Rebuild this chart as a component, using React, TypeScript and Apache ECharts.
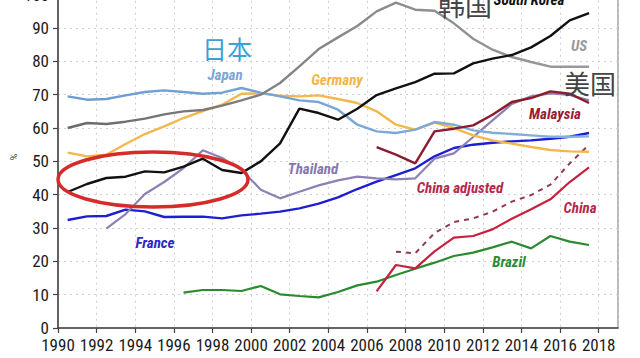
import React, { useEffect, useRef } from "react";
import * as echarts from "echarts";

const yearsFull = [1990.5, 1991.5, 1992.5, 1993.5, 1994.5, 1995.5, 1996.5, 1997.5, 1998.5, 1999.5, 2000.5, 2001.5, 2002.5, 2003.5, 2004.5, 2005.5, 2006.5, 2007.5, 2008.5, 2009.5, 2010.5, 2011.5, 2012.5, 2013.5, 2014.5, 2015.5, 2016.5, 2017.5];
const yearsThailand = [1992.5, 1993.5, 1994.5, 1995.5, 1996.5, 1997.5, 1998.5, 1999.5, 2000.5, 2001.5, 2002.5, 2003.5, 2004.5, 2005.5, 2006.5, 2007.5, 2008.5, 2009.5, 2010.5, 2011.5, 2012.5, 2013.5, 2014.5, 2015.5, 2016.5, 2017.5];
const yearsBrazil = [1996.5, 1997.5, 1998.5, 1999.5, 2000.5, 2001.5, 2002.5, 2003.5, 2004.5, 2005.5, 2006.5, 2007.5, 2008.5, 2009.5, 2010.5, 2011.5, 2012.5, 2013.5, 2014.5, 2015.5, 2016.5, 2017.5];
const yearsMalaysia = [2006.5, 2007.5, 2008.5, 2009.5, 2010.5, 2011.5, 2012.5, 2013.5, 2014.5, 2015.5, 2016.5, 2017.5];
const yearsChina = [2006.5, 2007.5, 2008.5, 2009.5, 2010.5, 2011.5, 2012.5, 2013.5, 2014.5, 2015.5, 2016.5, 2017.5];
const yearsChinaAdj = [2007.5, 2008.5, 2009.5, 2010.5, 2011.5, 2012.5, 2013.5, 2014.5, 2015.5, 2016.5, 2017.5];

const japan = [69.5, 68.5, 68.7, 69.8, 70.8, 71.3, 70.8, 70.3, 70.6, 72, 70.6, 69.5, 68.3, 67.8, 65.5, 61, 59, 58.5, 59.5, 61.8, 61, 59.3, 58.6, 58.2, 57.8, 57.4, 57.4, 57.5];
const us = [60, 61.5, 61.2, 61.9, 62.8, 64.1, 65, 65.4, 66.7, 68.3, 70, 73.5, 78.5, 83.7, 87.2, 90.6, 95, 97.6, 95.5, 95.2, 91.4, 86.8, 83.5, 81.3, 79.8, 78.4, 78.4, 78.4];
const korea = [40.8, 43.2, 45, 45.4, 47, 46.7, 48.4, 50.8, 47.4, 46.5, 50, 55.4, 65.8, 64.5, 62.5, 65.8, 69.9, 71.9, 73.8, 76.3, 76.4, 79.4, 80.8, 81.9, 84.2, 87.6, 92.3, 94.5];
const germany = [52.6, 51.5, 52, 55.2, 58.2, 60.5, 63, 65.1, 67, 70.3, 70.4, 69.7, 69.5, 69.8, 68.7, 67.5, 65, 61, 59.5, 61.6, 60, 57.8, 56.3, 55.3, 54.3, 53.4, 53, 52.9];
const france = [32.4, 33.5, 33.6, 35.5, 35, 33.3, 33.4, 33.4, 32.9, 33.8, 34.3, 34.9, 35.9, 37.3, 39.2, 41.7, 43.9, 45.9, 47.9, 51.5, 54, 55, 55.6, 56, 56.3, 56.8, 57.4, 58.5];
const thailand = [29.8, 34.2, 40.2, 43.8, 48, 53.3, 51, 47.5, 41.5, 38.9, 40.9, 42.8, 44.3, 45.4, 44.9, 44.6, 44.9, 50.8, 52.4, 57.3, 62.3, 67.2, 69.5, 70.4, 69.9, 68.3];
const brazil = [10.6, 11.4, 11.4, 11.1, 12.6, 10.1, 9.6, 9.2, 10.8, 12.8, 13.9, 15.9, 17.8, 19.6, 21.6, 22.6, 24.2, 25.9, 23.9, 27.6, 25.9, 24.9];
const malaysia = [54.3, 52, 49.4, 59, 59.8, 60.8, 64, 67.8, 69, 71, 70.3, 67.5];
const china = [11, 18.9, 17.9, 23, 27.1, 27.6, 29.6, 32.8, 35.6, 38.6, 43.8, 48.2];
const chinaAdj = [22.9, 22.4, 28.5, 31.8, 32.9, 34.9, 37.9, 39.9, 43, 49.4, 55];

const xMin = 1990;
const xMax = 2019;
const yMin = 0;
const yMax = 100;

const pair = (xs: number[], ys: number[]) => xs.map((x, i) => [x, ys[i]]);

const NARROW = "'Liberation Sans Narrow', 'Roboto Condensed', 'DejaVu Sans Condensed', sans-serif";

export default function App() {
  const ref = useRef<HTMLDivElement>(null);
  useEffect(() => {
    if (!ref.current) return;
    const chart = echarts.init(ref.current, null, { renderer: "svg" });
    const line = (name: string, xs: number[], ys: number[], color: any, width = 2.2, dashed = false, z = 2) => ({
      name,
      type: "line",
      data: pair(xs, ys),
      showSymbol: false,
      symbol: "none",
      z,
      lineStyle: { color, width, type: dashed ? [5, 5] : "solid" },
    });
    const txt = (text: string, x: number, y: number, color: string, size = 15, italic = true, bold = true, font = NARROW) => ({
      type: "text",
      x,
      y,
      z: 50,
      style: {
        text,
        fill: color,
        fontSize: size,
        fontStyle: italic ? "italic" : "normal",
        fontWeight: bold ? "bold" : "normal",
        fontFamily: font,
        textAlign: "center",
        textVerticalAlign: "middle",
      },
    });
    const cjk = "'Noto Sans CJK SC'";
    const usColor = new echarts.graphic.LinearGradient(0, 0, 1, 0, [
      { offset: 0, color: "#6a6a6a" },
      { offset: 0.45, color: "#858585" },
      { offset: 1, color: "#9a9a9a" },
    ]);
    const japanColor = new echarts.graphic.LinearGradient(0, 0, 1, 0, [
      { offset: 0, color: "#6a9bd0" },
      { offset: 1, color: "#86b0dc" },
    ]);
    chart.setOption({
      animation: false,
      backgroundColor: "#ffffff",
      grid: {
        left: 58,
        right: 22,
        top: -5.3,
        bottom: 30,
        outerBoundsMode: "none",
        containLabel: false,
        show: true,
        borderColor: "#8a8a8a",
        borderWidth: 1.2,
      },
      xAxis: {
        type: "value",
        min: xMin,
        max: xMax,
        interval: 2,
        axisLine: { show: true, lineStyle: { color: "#444", width: 1.5 } },
        axisTick: { show: true, inside: false, length: 5, lineStyle: { color: "#444", width: 1.2 } },
        axisLabel: {
          color: "#1a1a1a",
          fontSize: 17,
          lineHeight: 14,
          fontFamily: NARROW,
          margin: 10,
          showMaxLabel: false,
          formatter: (v: number) => String(v),
        },
        splitLine: { show: true, lineStyle: { color: "#cfcfcf", type: [2, 4], width: 1 } },
      },
      yAxis: {
        type: "value",
        min: yMin,
        max: yMax,
        interval: 10,
        axisLine: { show: true, lineStyle: { color: "#444", width: 1.5 } },
        axisTick: { show: true, inside: false, length: 5, lineStyle: { color: "#444", width: 1.2 } },
        axisLabel: { color: "#1a1a1a", fontSize: 17, lineHeight: 14, fontFamily: NARROW, margin: 9, formatter: (v: number) => String(v) },
        splitLine: { show: true, lineStyle: { color: "#cfcfcf", type: [2, 4], width: 1 } },
      },
      series: [
        line("Brazil", yearsBrazil, brazil, "#2b8a30"),
        line("China adjusted", yearsChinaAdj, chinaAdj, "#8e3a58", 2, true),
        line("China", yearsChina, china, "#c8203e"),
        line("France", yearsFull, france, "#1e1ed2", 2.4),
        line("Thailand", yearsThailand, thailand, "#8c80b4"),
        line("Germany", yearsFull, germany, "#f2b84b", 2.4),
        line("Japan", yearsFull, japan, japanColor, 2.4),
        line("Malaysia", yearsMalaysia, malaysia, "#8b1c2e", 2.4),
        line("US", yearsFull, us, usColor, 2.4),
        line("South Korea", yearsFull, korea, "#111111", 2.4, false, 3),
      ],
      graphic: [
        {
          type: "ellipse",
          z: 40,
          shape: { cx: 153, cy: 179.5, rx: 95, ry: 27.5 },
          style: { fill: "none", stroke: "#d62b2b", lineWidth: 3.5 },
        },
        txt("日本", 227, 48, "#3d9fd6", 25, false, false, cjk),
        txt("Japan", 225, 75, "#7ba6d6"),
        txt("Germany", 337, 80, "#f0b64a"),
        txt("Thailand", 313, 169, "#8576b0"),
        txt("France", 155, 243, "#2a2ac4"),
        txt("China adjusted", 460, 188, "#b5284a"),
        txt("China", 580, 208, "#b5284a"),
        txt("Brazil", 509, 262, "#2e8b36"),
        txt("Malaysia", 555, 114, "#9c1a30"),
        txt("US", 579, 46, "#999999"),
        txt("美国", 590, 82, "#444444", 26, false, false, cjk),
        txt("韩国", 465, 4, "#444444", 27, false, false, cjk),
        txt("South Korea", 529, 0, "#111111"),
        {
          type: "text",
          x: 14,
          y: 157,
          rotation: Math.PI / 2,
          z: 50,
          style: { text: "%", fill: "#333", fontSize: 9, fontFamily: "Roboto", textAlign: "center", textVerticalAlign: "middle" },
        },
      ],
    });
    return () => chart.dispose();
  }, []);
  return <div ref={ref} style={{ position: "fixed", left: 0, top: 0, width: 640, height: 358 }} />;
}
